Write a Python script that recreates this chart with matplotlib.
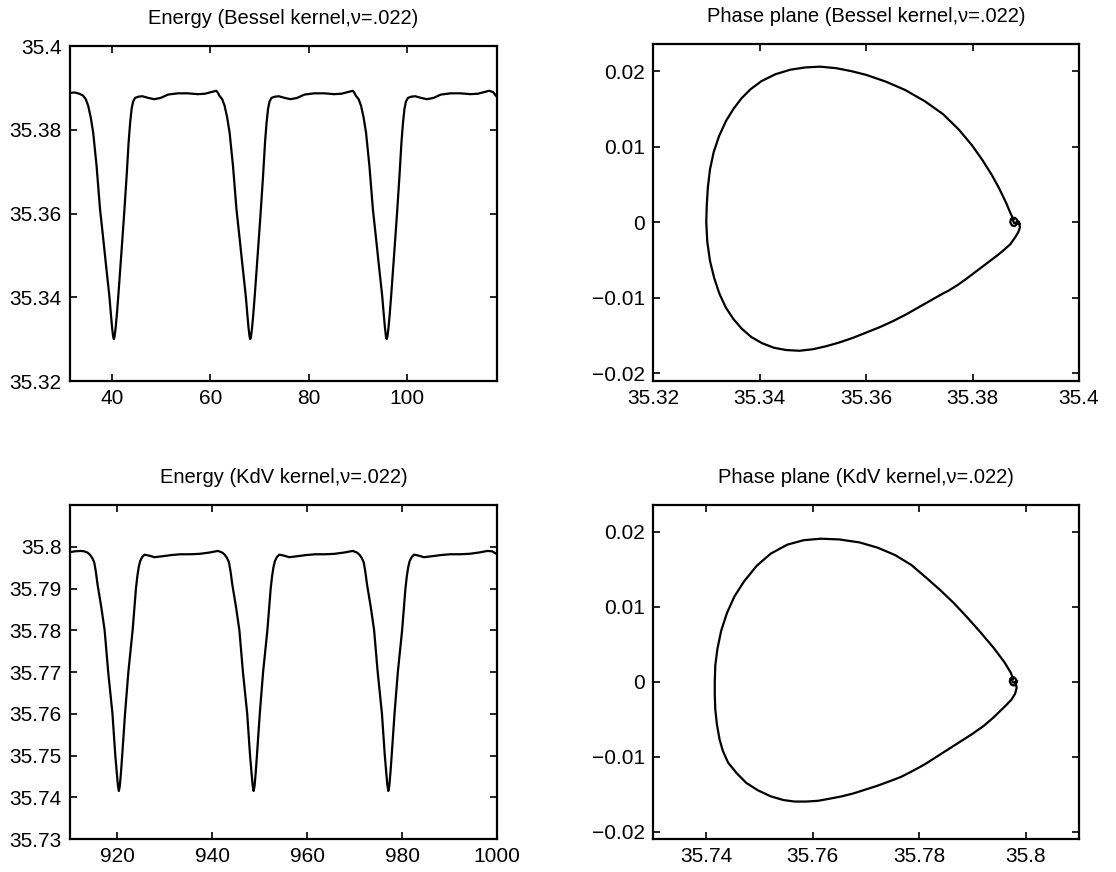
import matplotlib
matplotlib.use("Agg")
import matplotlib.pyplot as plt

plt.rcParams['font.family'] = ['Liberation Sans', 'DejaVu Sans']

# energy, Bessel kernel
t_bes = [31.5, 32.5, 33.4,
         34.1, 34.7, 35.2, 35.7, 36.2, 36.9, 37.6, 38.2, 38.8, 39.5,
         39.8, 40.05, 40.25, 40.4, 40.55, 40.75, 41.0, 41.3, 41.9, 42.5,
         43.0, 43.4, 43.7, 44.0, 44.3, 44.7, 45.4, 46.2, 47.4, 48.6,
         49.9, 51.4, 53.4, 55.4, 57.4, 58.9, 60.2, 61.2, 61.5,
         61.8, 62.4, 62.9, 63.4, 63.9, 64.6, 65.3, 65.9, 66.5, 67.2,
         67.5, 67.75, 67.95, 68.1, 68.25, 68.45, 68.7, 69.0, 69.6, 70.2,
         70.7, 71.1, 71.4, 71.7, 72.0, 72.4, 73.1, 73.9, 75.1, 76.3,
         77.6, 79.1, 81.1, 83.1, 85.1, 86.6, 87.9, 88.9, 89.2,
         89.5, 90.1, 90.6, 91.1, 91.6, 92.3, 93.0, 93.6, 94.2, 94.9,
         95.2, 95.45, 95.65, 95.8, 95.95, 96.15, 96.4, 96.7, 97.3, 97.9,
         98.4, 98.8, 99.1, 99.4, 99.7, 100.1, 100.8, 101.6, 102.8, 104.0,
         105.3, 106.8, 108.8, 110.8, 112.8, 114.3, 115.6, 116.6, 117.4, 118.2]
e_bes = [35.3888, 35.3889, 35.3886,
         35.3882, 35.3873, 35.3857, 35.3830, 35.3794, 35.3713, 35.3610, 35.3545, 35.3478, 35.3402,
         35.3360, 35.3327, 35.3307, 35.3300, 35.3306, 35.3325, 35.3357, 35.3402, 35.3500, 35.3600,
         35.3690, 35.3770, 35.3815, 35.3849, 35.3867, 35.3876, 35.3879, 35.3880, 35.3876, 35.3873,
         35.3876, 35.3884, 35.3887, 35.3887, 35.3885, 35.3886, 35.3890, 35.3893, 35.3889,
         35.3882, 35.3873, 35.3857, 35.3830, 35.3794, 35.3713, 35.3610, 35.3545, 35.3478, 35.3402,
         35.3360, 35.3327, 35.3307, 35.3300, 35.3306, 35.3325, 35.3357, 35.3402, 35.3500, 35.3600,
         35.3690, 35.3770, 35.3815, 35.3849, 35.3867, 35.3876, 35.3879, 35.3880, 35.3876, 35.3873,
         35.3876, 35.3884, 35.3887, 35.3887, 35.3885, 35.3886, 35.3890, 35.3893, 35.3889,
         35.3882, 35.3873, 35.3857, 35.3830, 35.3794, 35.3713, 35.3610, 35.3545, 35.3478, 35.3402,
         35.3360, 35.3327, 35.3307, 35.3300, 35.3306, 35.3325, 35.3357, 35.3402, 35.3500, 35.3600,
         35.3690, 35.3770, 35.3815, 35.3849, 35.3867, 35.3876, 35.3879, 35.3880, 35.3876, 35.3873,
         35.3876, 35.3884, 35.3887, 35.3887, 35.3885, 35.3886, 35.3890, 35.3893, 35.3890, 35.3878]

# energy, KdV kernel
t_kdv = [910.0, 911.0, 912.3, 913.0,
         913.7, 914.2, 914.7, 915.1, 915.45, 915.8, 916.6, 917.3, 918.05, 918.95,
         919.55, 919.85, 920.1, 920.3, 920.5, 920.75, 921.0, 921.6, 922.3, 923.2,
         923.9, 924.2, 924.5, 924.8, 925.2, 925.7, 926.6, 927.8, 929.3, 931.3,
         933.3, 935.3, 937.3, 939.3, 941.2,
         942.1, 942.6, 943.1, 943.5, 943.85, 944.2, 945.0, 945.7, 946.45, 947.35,
         947.95, 948.25, 948.5, 948.7, 948.9, 949.15, 949.4, 950.0, 950.7, 951.6,
         952.3, 952.6, 952.9, 953.2, 953.6, 954.1, 955.0, 956.2, 957.7, 959.7,
         961.7, 963.7, 965.7, 967.7, 969.6,
         970.5, 971.0, 971.5, 971.9, 972.25, 972.6, 973.4, 974.1, 974.85, 975.75,
         976.35, 976.65, 976.9, 977.1, 977.3, 977.55, 977.8, 978.4, 979.1, 980.0,
         980.7, 981.0, 981.3, 981.6, 982.0, 982.5, 983.4, 984.6, 986.1, 988.1,
         990.1, 992.1, 994.1, 996.1, 998.0, 999.0, 1000.0]
e_kdv = [35.7987, 35.7989, 35.7990, 35.7989,
         35.7986, 35.7981, 35.7973, 35.7963, 35.7940, 35.7910, 35.7855, 35.7800, 35.7700, 35.7600,
         35.7500, 35.7460, 35.7428, 35.7415, 35.7427, 35.7460, 35.7500, 35.7600, 35.7700, 35.7800,
         35.7900, 35.7930, 35.7952, 35.7966, 35.7975, 35.7981, 35.7979, 35.7975, 35.7977, 35.7980,
         35.7982, 35.7982, 35.7983, 35.7986, 35.7990,
         35.7986, 35.7981, 35.7973, 35.7963, 35.7940, 35.7910, 35.7855, 35.7800, 35.7700, 35.7600,
         35.7500, 35.7460, 35.7428, 35.7415, 35.7427, 35.7460, 35.7500, 35.7600, 35.7700, 35.7800,
         35.7900, 35.7930, 35.7952, 35.7966, 35.7975, 35.7981, 35.7979, 35.7975, 35.7977, 35.7980,
         35.7982, 35.7982, 35.7983, 35.7986, 35.7990,
         35.7986, 35.7981, 35.7973, 35.7963, 35.7940, 35.7910, 35.7855, 35.7800, 35.7700, 35.7600,
         35.7500, 35.7460, 35.7428, 35.7415, 35.7427, 35.7460, 35.7500, 35.7600, 35.7700, 35.7800,
         35.7900, 35.7930, 35.7952, 35.7966, 35.7975, 35.7981, 35.7979, 35.7975, 35.7977, 35.7980,
         35.7982, 35.7982, 35.7983, 35.7986, 35.7990, 35.7989, 35.7982]

# phase plane, Bessel kernel (E, dE/dt)
pe_bes = [35.3888, 35.3889, 35.3886, 35.3880, 35.3871, 35.3860, 35.3848, 35.3833, 35.3818,
          35.3803, 35.3788, 35.3772, 35.3756, 35.3740, 35.3725, 35.3700, 35.3675, 35.3650,
          35.3625, 35.3600, 35.3575, 35.3550, 35.3525, 35.3500, 35.3475, 35.3450, 35.3427,
          35.3405, 35.3385, 35.3367, 35.3351, 35.3337, 35.3325, 35.3315, 35.3307, 35.3302,
          35.3300,
          35.3301, 35.3303, 35.3307, 35.3314, 35.3324, 35.3337, 35.3351, 35.3366, 35.3383,
          35.3404, 35.3430, 35.3458, 35.3486, 35.3514, 35.3544, 35.3573, 35.3601, 35.3638,
          35.3674, 35.3711, 35.3745, 35.3774, 35.3799, 35.3819, 35.3836, 35.3850, 35.3863,
          35.3872, 35.3877,
          35.3876, 35.3872, 35.3871, 35.3874, 35.3879, 35.3884, 35.3884, 35.3880, 35.3876,
          35.3878, 35.3883, 35.3887, 35.3888]
pd_bes = [-0.0002, -0.0007, -0.0013, -0.0020, -0.0029, -0.0036, -0.0043, -0.0051, -0.0059,
          -0.0067, -0.0075, -0.0083, -0.0090, -0.0096, -0.0102, -0.0112, -0.0122, -0.0131,
          -0.0139, -0.0146, -0.0153, -0.0159, -0.0164, -0.0168, -0.0170, -0.0169, -0.0166,
          -0.0160, -0.0152, -0.0141, -0.0128, -0.0113, -0.0095, -0.0074, -0.0051, -0.0026,
          0.0000,
          0.0023, 0.0046, 0.0070, 0.0093, 0.0114, 0.0134, 0.0150, 0.0164, 0.0176,
          0.0187, 0.0196, 0.0202, 0.0205, 0.0206, 0.0204, 0.0200, 0.0195, 0.0186,
          0.0175, 0.0160, 0.0143, 0.0123, 0.0102, 0.0082, 0.0063, 0.0045, 0.0026,
          0.0011, 0.0004,
          0.0006, 0.0004, 0.0000, -0.0004, -0.0005, -0.0002, 0.0003, 0.0006, 0.0003,
          -0.0001, 0.0000, 0.0001, -0.0002]

# phase plane, KdV kernel (E, dE/dt)
pe_kdv = [35.7981, 35.7983, 35.7980, 35.7973, 35.7965, 35.7955, 35.7939, 35.7921, 35.7899,
          35.7877, 35.7855, 35.7833, 35.7811, 35.7788, 35.7766, 35.7744, 35.7721, 35.7699,
          35.7677, 35.7655, 35.7633, 35.7610, 35.7588, 35.7566, 35.7545, 35.7521, 35.7497,
          35.7475, 35.7457, 35.7441, 35.7431, 35.7425, 35.7420, 35.7417, 35.7416, 35.7416,
          35.7417, 35.7421, 35.7428, 35.7439, 35.7453, 35.7471, 35.7495, 35.7521, 35.7552,
          35.7583, 35.7615, 35.7650, 35.7688, 35.7722, 35.7755, 35.7785, 35.7813, 35.7840,
          35.7865, 35.7890, 35.7915, 35.7940, 35.7960, 35.7972, 35.7976,
          35.7975, 35.7971, 35.7970, 35.7973, 35.7978, 35.7982, 35.7982, 35.7978, 35.7974,
          35.7976, 35.7981, 35.7984, 35.7981]
pd_kdv = [-0.0002, -0.0008, -0.0016, -0.0024, -0.0030, -0.0037, -0.0048, -0.0059, -0.0070,
          -0.0080, -0.0090, -0.0100, -0.0110, -0.0119, -0.0127, -0.0133, -0.0139, -0.0144,
          -0.0149, -0.0153, -0.0156, -0.0159, -0.0160, -0.0160, -0.0158, -0.0153, -0.0145,
          -0.0135, -0.0122, -0.0108, -0.0092, -0.0077, -0.0057, -0.0037, -0.0018, 0.0000,
          0.0022, 0.0044, 0.0068, 0.0092, 0.0114, 0.0134, 0.0155, 0.0171, 0.0183,
          0.0189, 0.0191, 0.0190, 0.0186, 0.0179, 0.0169, 0.0156, 0.0139, 0.0122,
          0.0105, 0.0086, 0.0066, 0.0045, 0.0026, 0.0012, 0.0004,
          0.0006, 0.0004, 0.0000, -0.0004, -0.0005, -0.0002, 0.0003, 0.0006, 0.0003,
          -0.0001, 0.0000, 0.0001, -0.0002]

titles = ['Energy (Bessel kernel,\u03bd=.022)', 'Phase plane (Bessel kernel,\u03bd=.022)',
          'Energy (KdV kernel,\u03bd=.022)', 'Phase plane (KdV kernel,\u03bd=.022)']

ticks_tl_x = [40, 60, 80, 100]
ticks_tl_y = [35.32, 35.34, 35.36, 35.38, 35.4]
labels_tl_y = ['35.32', '35.34', '35.36', '35.38', '35.4']
ticks_tr_x = [35.32, 35.34, 35.36, 35.38, 35.4]
labels_tr_x = ['35.32', '35.34', '35.36', '35.38', '35.4']
ticks_phase_y = [-0.02, -0.01, 0, 0.01, 0.02]
labels_phase_y = ['\u22120.02', '\u22120.01', '0', '0.01', '0.02']
ticks_bl_x = [920, 940, 960, 980, 1000]
ticks_bl_y = [35.73, 35.74, 35.75, 35.76, 35.77, 35.78, 35.79, 35.8]
labels_bl_y = ['35.73', '35.74', '35.75', '35.76', '35.77', '35.78', '35.79', '35.8']
ticks_br_x = [35.74, 35.76, 35.78, 35.8]
labels_br_x = ['35.74', '35.76', '35.78', '35.8']

W, H = 1116, 872
fig = plt.figure(figsize=(W / 100, H / 100), dpi=100)


def box(x0, y0, x1, y1):
    return fig.add_axes([x0 / W, 1 - y1 / H, (x1 - x0) / W, (y1 - y0) / H])


ax1 = box(70, 46, 497, 381)
ax2 = box(653, 44, 1079, 381)
ax3 = box(70, 505, 497, 839)
ax4 = box(653, 505, 1079, 839)

lw = 1.6
ax1.plot(t_bes, e_bes, color='black', lw=lw)
ax2.plot(pe_bes, pd_bes, color='black', lw=lw)
ax3.plot(t_kdv, e_kdv, color='black', lw=lw)
ax4.plot(pe_kdv, pd_kdv, color='black', lw=lw)

ax1.set_xlim(31.5, 118.2)
ax1.set_ylim(35.32, 35.4)
ax1.set_xticks(ticks_tl_x)
ax1.set_yticks(ticks_tl_y, labels_tl_y)

ax2.set_xlim(35.32, 35.4)
ax2.set_ylim(-0.021, 0.0236)
ax2.set_xticks(ticks_tr_x, labels_tr_x)
ax2.set_yticks(ticks_phase_y, labels_phase_y)

ax3.set_xlim(910, 1000)
ax3.set_ylim(35.73, 35.81)
ax3.set_xticks(ticks_bl_x)
ax3.set_yticks(ticks_bl_y, labels_bl_y)

ax4.set_xlim(35.73, 35.81)
ax4.set_ylim(-0.021, 0.0236)
ax4.set_xticks(ticks_br_x, labels_br_x)
ax4.set_yticks(ticks_phase_y, labels_phase_y)

for ax, title in zip([ax1, ax2, ax3, ax4], titles):
    ax.set_title(title, fontsize=14.5, pad=16)
    ax.tick_params(direction='in', top=True, right=True, length=5, width=1.2,
                   labelsize=15, pad=6)
    for sp in ax.spines.values():
        sp.set_linewidth(1.6)

fig.savefig('out.png', dpi=100)
